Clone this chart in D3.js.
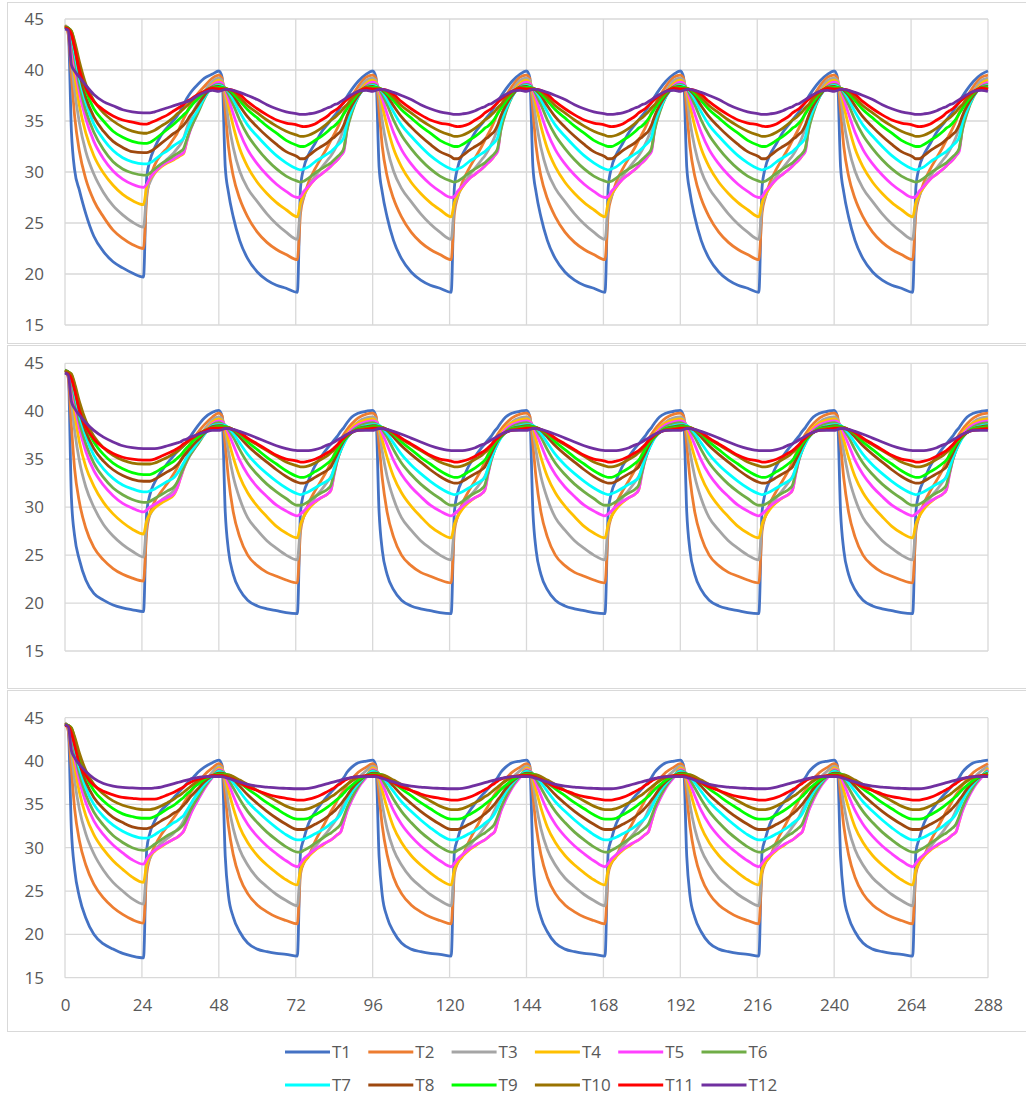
<!DOCTYPE html>
<html>
<head>
<meta charset="utf-8">
<script src="https://cdn.jsdelivr.net/npm/d3@7"></script>
<style>
  body { margin: 0; background: #fff; }
  text { font-family: "Open Sans", sans-serif; fill: #595959; }
</style>
</head>
<body>
<div id="chart"></div>
<script>
// hours inside one 48 h cycle where values were read
var cycleHours = [0, 1, 2, 3, 4.5, 6.5, 9, 12, 15, 18, 21, 24.5,
  25.5, 26.5, 28, 30, 32, 34, 35, 36, 37, 38, 39, 40, 41.5, 43.5, 46];

var seriesNames = ["T1", "T2", "T3", "T4", "T5", "T6", "T7", "T8", "T9", "T10", "T11", "T12"];
var xTicks = [0, 24, 48, 72, 96, 120, 144, 168, 192, 216, 240, 264, 288];
var yTicks = [15, 20, 25, 30, 35, 40, 45];

// panel 1 : first cycle (0-48 h)
var p1First = [
  [44.2, 43.8, 34.0, 30.2, 28.2, 25.9, 23.7, 22.2, 21.2, 20.6, 20.1, 19.7, 29.5, 31.1, 32.4, 33.6, 34.4, 35.1, 35.5, 36.0, 36.6, 37.2, 37.7, 38.1, 38.6, 39.2, 39.6],
  [44.4, 43.5, 39.5, 35.5, 32.0, 29.3, 27.2, 25.6, 24.3, 23.5, 22.9, 22.5, 27.5, 29.3, 30.7, 31.7, 32.4, 33.3, 33.8, 34.5, 35.2, 35.8, 36.5, 37.0, 37.7, 38.4, 39.2],
  [44.3, 43.8, 41.0, 38.0, 34.8, 32.0, 29.8, 28.0, 26.7, 25.8, 25.1, 24.6, 28.0, 29.0, 29.9, 30.7, 31.3, 31.9, 32.3, 32.7, 33.3, 34.3, 35.2, 35.9, 36.8, 37.9, 38.9],
  [44.3, 44.0, 42.0, 39.5, 36.5, 33.8, 31.6, 29.9, 28.7, 27.8, 27.2, 26.8, 28.6, 29.3, 29.9, 30.5, 30.9, 31.2, 31.4, 31.6, 31.8, 33.0, 34.1, 34.9, 36.0, 37.5, 38.6],
  [44.3, 44.1, 42.8, 40.5, 37.8, 35.2, 33.0, 31.3, 30.1, 29.3, 28.8, 28.5, 28.8, 29.4, 30.0, 30.6, 31.0, 31.3, 31.5, 31.7, 31.9, 33.0, 34.0, 34.8, 35.9, 37.4, 38.5],
  [44.3, 44.1, 43.2, 41.2, 38.5, 36.0, 33.9, 32.2, 31.0, 30.3, 29.9, 29.7, 29.7, 29.9, 30.3, 30.8, 31.2, 31.6, 31.8, 32.0, 32.3, 33.2, 34.1, 34.8, 35.8, 37.2, 38.4],
  [44.2, 44.1, 43.4, 41.7, 39.2, 36.8, 34.7, 33.2, 32.1, 31.4, 31.0, 30.8, 30.8, 30.9, 31.2, 31.7, 32.1, 32.6, 32.8, 33.0, 33.3, 34.0, 34.7, 35.3, 36.1, 37.3, 38.3],
  [44.2, 44.1, 43.6, 42.2, 39.7, 37.3, 35.4, 34.0, 33.0, 32.4, 32.0, 31.9, 31.9, 32.0, 32.3, 32.8, 33.3, 33.8, 34.0, 34.3, 34.6, 35.0, 35.5, 35.9, 36.6, 37.5, 38.3],
  [44.2, 44.1, 43.8, 42.6, 40.3, 38.0, 36.2, 35.0, 34.0, 33.4, 33.0, 32.8, 32.8, 32.9, 33.2, 33.7, 34.2, 34.7, 35.0, 35.3, 35.6, 35.9, 36.3, 36.7, 37.2, 37.8, 38.3],
  [44.2, 44.1, 43.8, 42.8, 40.8, 38.6, 37.0, 35.8, 35.0, 34.4, 34.0, 33.8, 33.8, 33.9, 34.1, 34.5, 34.9, 35.4, 35.7, 35.9, 36.2, 36.5, 36.8, 37.1, 37.5, 37.9, 38.3],
  [44.1, 44.0, 43.5, 42.2, 40.0, 38.2, 36.9, 36.1, 35.5, 35.1, 34.9, 34.7, 34.7, 34.8, 35.0, 35.3, 35.6, 36.0, 36.2, 36.4, 36.6, 36.9, 37.1, 37.3, 37.6, 37.9, 38.2],
  [44.0, 43.9, 40.5, 39.9, 39.3, 38.5, 37.6, 36.9, 36.5, 36.1, 35.9, 35.8, 35.8, 35.8, 35.9, 36.1, 36.3, 36.5, 36.6, 36.7, 36.8, 36.9, 37.0, 37.2, 37.5, 37.8, 38.0]
];

// panel 1 : repeating cycle (48-288 h)
var p1Cycle = [
  [39.9, 39.3, 30.5, 28.0, 25.6, 23.3, 21.5, 20.2, 19.4, 18.9, 18.6, 18.2, 28.5, 30.4, 31.7, 32.8, 33.9, 34.7, 35.1, 35.5, 35.9, 36.4, 36.9, 37.4, 38.1, 38.9, 39.6],
  [39.5, 39.2, 36.0, 32.5, 29.6, 27.4, 25.6, 24.1, 23.1, 22.4, 21.9, 21.4, 26.0, 27.5, 29.0, 30.3, 31.4, 32.5, 33.1, 33.7, 34.3, 35.0, 35.8, 36.5, 37.4, 38.4, 39.3],
  [39.2, 39.0, 37.5, 35.0, 32.4, 30.1, 28.4, 27.1, 25.9, 24.9, 24.1, 23.4, 26.6, 27.6, 28.6, 29.6, 30.4, 31.2, 31.6, 32.1, 32.7, 33.4, 34.3, 35.3, 36.6, 37.9, 39.0],
  [39.0, 38.8, 37.9, 36.5, 34.5, 32.3, 30.5, 29.0, 27.9, 27.0, 26.3, 25.6, 27.0, 27.8, 28.5, 29.3, 29.8, 30.3, 30.6, 30.9, 31.2, 31.6, 32.2, 34.3, 36.0, 37.6, 38.7],
  [38.8, 38.7, 38.1, 37.2, 35.7, 33.9, 32.2, 30.8, 29.7, 28.8, 28.1, 27.5, 27.6, 28.1, 28.6, 29.3, 29.8, 30.3, 30.6, 30.9, 31.2, 31.6, 32.0, 34.2, 35.9, 37.5, 38.5],
  [38.6, 38.5, 38.2, 37.6, 36.6, 35.1, 33.6, 32.3, 31.2, 30.3, 29.6, 29.1, 29.0, 29.1, 29.4, 29.9, 30.3, 30.7, 30.9, 31.2, 31.5, 31.8, 32.3, 34.1, 35.8, 37.4, 38.4],
  [38.5, 38.4, 38.2, 37.9, 37.1, 35.9, 34.6, 33.5, 32.5, 31.6, 30.9, 30.3, 30.2, 30.3, 30.5, 31.0, 31.4, 31.8, 32.0, 32.3, 32.6, 32.9, 33.4, 34.8, 36.1, 37.4, 38.3],
  [38.4, 38.3, 38.2, 38.0, 37.5, 36.5, 35.4, 34.4, 33.5, 32.7, 32.0, 31.5, 31.3, 31.3, 31.6, 32.1, 32.5, 32.9, 33.2, 33.4, 33.7, 34.0, 34.6, 35.5, 36.5, 37.5, 38.3],
  [38.3, 38.3, 38.2, 38.1, 37.7, 37.0, 36.1, 35.3, 34.5, 33.8, 33.1, 32.6, 32.5, 32.5, 32.7, 33.1, 33.5, 34.0, 34.3, 34.5, 34.8, 35.2, 35.7, 36.2, 36.9, 37.7, 38.3],
  [38.2, 38.2, 38.2, 38.1, 37.9, 37.3, 36.5, 35.8, 35.1, 34.5, 34.0, 33.6, 33.5, 33.5, 33.6, 33.9, 34.3, 34.8, 35.1, 35.3, 35.6, 35.9, 36.3, 36.6, 37.2, 37.8, 38.3],
  [38.1, 38.1, 38.1, 38.1, 38.0, 37.6, 36.9, 36.2, 35.6, 35.1, 34.8, 34.6, 34.5, 34.45, 34.5, 34.7, 35.1, 35.5, 35.8, 36.0, 36.2, 36.5, 36.8, 37.1, 37.5, 37.9, 38.2],
  [37.9, 38.0, 38.1, 38.1, 38.0, 37.8, 37.5, 37.1, 36.6, 36.2, 35.9, 35.7, 35.65, 35.65, 35.7, 35.8, 36.0, 36.3, 36.4, 36.6, 36.7, 36.9, 37.1, 37.3, 37.6, 37.9, 38.0]
];

// panel 2
var p2First = [
  [44.0, 43.8, 31.0, 27.0, 24.5, 22.4, 21.0, 20.3, 19.8, 19.5, 19.3, 19.1, 29.5, 31.3, 32.6, 33.7, 34.6, 35.4, 35.8, 36.1, 36.4, 36.8, 37.3, 37.8, 38.5, 39.3, 39.9],
  [44.3, 43.5, 38.5, 34.0, 30.5, 27.8, 25.8, 24.5, 23.6, 23.0, 22.6, 22.3, 27.5, 29.3, 30.6, 31.6, 32.5, 33.5, 34.1, 34.8, 35.4, 36.0, 36.6, 37.1, 37.8, 38.6, 39.4],
  [44.3, 43.8, 41.0, 38.0, 34.8, 32.1, 30.0, 28.2, 27.0, 26.1, 25.4, 24.8, 28.3, 29.2, 30.0, 30.7, 31.2, 31.8, 32.5, 33.4, 34.3, 35.1, 35.8, 36.3, 37.1, 38.1, 39.1],
  [44.3, 44.0, 42.3, 39.8, 36.8, 34.2, 32.2, 30.5, 29.3, 28.4, 27.7, 27.2, 28.6, 29.3, 29.9, 30.4, 30.8, 31.3, 32.0, 33.0, 34.0, 34.8, 35.5, 36.0, 36.8, 37.8, 38.9],
  [44.3, 44.1, 43.0, 40.8, 38.2, 35.8, 33.8, 32.3, 31.2, 30.4, 29.9, 29.5, 29.7, 30.0, 30.3, 30.7, 31.0, 31.4, 32.0, 33.0, 34.0, 34.8, 35.4, 35.9, 36.7, 37.7, 38.7],
  [44.3, 44.1, 43.3, 41.4, 38.9, 36.6, 34.6, 33.1, 32.0, 31.3, 30.8, 30.5, 30.5, 30.6, 30.9, 31.3, 31.7, 32.1, 32.6, 33.3, 34.1, 34.8, 35.4, 35.9, 36.6, 37.6, 38.6],
  [44.2, 44.1, 43.5, 41.9, 39.6, 37.4, 35.4, 34.0, 33.0, 32.3, 31.9, 31.6, 31.6, 31.7, 31.9, 32.3, 32.7, 33.1, 33.5, 34.0, 34.6, 35.2, 35.7, 36.1, 36.8, 37.6, 38.5],
  [44.2, 44.1, 43.7, 42.4, 40.1, 37.9, 36.1, 34.8, 33.9, 33.3, 32.9, 32.7, 32.7, 32.7, 32.9, 33.3, 33.7, 34.1, 34.4, 34.8, 35.3, 35.7, 36.1, 36.5, 37.0, 37.7, 38.4],
  [44.2, 44.1, 43.8, 42.7, 40.6, 38.5, 36.8, 35.5, 34.6, 34.0, 33.6, 33.4, 33.4, 33.4, 33.6, 34.0, 34.4, 34.8, 35.1, 35.4, 35.8, 36.2, 36.5, 36.9, 37.3, 37.8, 38.3],
  [44.2, 44.1, 43.9, 42.9, 41.0, 39.0, 37.4, 36.2, 35.4, 34.9, 34.6, 34.5, 34.5, 34.5, 34.6, 34.9, 35.2, 35.6, 35.8, 36.1, 36.4, 36.7, 37.0, 37.2, 37.6, 38.0, 38.3],
  [44.0, 43.9, 43.4, 42.2, 40.1, 38.4, 37.1, 36.2, 35.6, 35.2, 35.0, 34.9, 34.9, 34.9, 35.0, 35.3, 35.6, 35.9, 36.1, 36.3, 36.6, 36.8, 37.1, 37.3, 37.6, 37.9, 38.2],
  [44.0, 43.8, 41.0, 40.3, 39.6, 38.8, 38.0, 37.3, 36.8, 36.4, 36.2, 36.1, 36.1, 36.1, 36.1, 36.2, 36.4, 36.6, 36.7, 36.8, 37.0, 37.1, 37.3, 37.4, 37.6, 37.8, 38.0]
];

var p2Cycle = [
  [40.1, 39.5, 29.5, 25.5, 23.0, 21.4, 20.3, 19.7, 19.4, 19.2, 19.0, 18.9, 29.5, 31.5, 32.8, 34.3, 35.3, 36.2, 36.6, 37.0, 37.4, 37.9, 38.3, 38.8, 39.4, 39.8, 40.0],
  [39.8, 39.5, 36.5, 33.0, 29.5, 26.9, 25.0, 23.9, 23.2, 22.8, 22.4, 22.1, 27.5, 29.0, 30.4, 31.7, 32.8, 34.0, 34.7, 35.5, 36.3, 37.0, 37.6, 38.1, 38.7, 39.3, 39.7],
  [39.4, 39.2, 38.0, 35.8, 33.2, 30.9, 28.9, 27.6, 26.5, 25.7, 25.0, 24.5, 28.0, 29.0, 30.0, 31.0, 31.8, 32.7, 33.2, 34.0, 35.0, 35.9, 36.7, 37.4, 38.2, 38.9, 39.3],
  [39.2, 39.0, 38.3, 37.0, 35.2, 33.2, 31.5, 30.1, 29.0, 28.0, 27.3, 26.8, 28.2, 29.0, 29.8, 30.5, 31.0, 31.4, 31.8, 33.6, 35.1, 36.2, 37.1, 37.7, 38.3, 38.8, 39.1],
  [39.0, 38.9, 38.5, 37.7, 36.5, 34.9, 33.4, 32.1, 31.1, 30.2, 29.6, 29.1, 29.3, 29.6, 30.1, 30.6, 31.0, 31.4, 31.8, 33.4, 34.9, 36.0, 36.9, 37.5, 38.1, 38.6, 38.9],
  [38.8, 38.7, 38.5, 38.1, 37.3, 36.0, 34.6, 33.4, 32.4, 31.6, 30.9, 30.2, 30.2, 30.3, 30.6, 31.1, 31.5, 31.9, 32.3, 33.6, 34.9, 35.9, 36.7, 37.3, 37.9, 38.4, 38.7],
  [38.6, 38.6, 38.5, 38.3, 37.7, 36.7, 35.5, 34.4, 33.5, 32.7, 32.0, 31.4, 31.3, 31.4, 31.6, 32.0, 32.4, 32.8, 33.1, 34.1, 35.1, 35.9, 36.6, 37.2, 37.8, 38.2, 38.5],
  [38.5, 38.5, 38.4, 38.3, 38.0, 37.3, 36.4, 35.5, 34.7, 33.9, 33.2, 32.6, 32.5, 32.5, 32.7, 33.1, 33.5, 33.9, 34.2, 34.9, 35.6, 36.3, 36.9, 37.3, 37.8, 38.2, 38.4],
  [38.4, 38.4, 38.4, 38.3, 38.1, 37.6, 36.8, 36.0, 35.2, 34.5, 33.8, 33.2, 33.1, 33.1, 33.3, 33.7, 34.1, 34.6, 34.9, 35.4, 36.0, 36.6, 37.0, 37.4, 37.8, 38.2, 38.3],
  [38.3, 38.3, 38.3, 38.3, 38.1, 37.7, 37.1, 36.5, 35.9, 35.3, 34.7, 34.3, 34.2, 34.2, 34.3, 34.6, 35.0, 35.4, 35.7, 36.0, 36.4, 36.8, 37.2, 37.5, 37.8, 38.1, 38.2],
  [38.2, 38.2, 38.2, 38.2, 38.1, 37.8, 37.2, 36.6, 36.0, 35.4, 35.0, 34.8, 34.7, 34.7, 34.8, 35.0, 35.3, 35.7, 35.9, 36.2, 36.5, 36.9, 37.2, 37.5, 37.8, 38.0, 38.1],
  [38.0, 38.1, 38.2, 38.2, 38.1, 37.9, 37.6, 37.2, 36.8, 36.4, 36.1, 35.9, 35.9, 35.9, 35.9, 36.0, 36.2, 36.5, 36.6, 36.8, 37.0, 37.2, 37.4, 37.6, 37.8, 38.0, 38.0]
];

// panel 3
var p3First = [
  [44.3, 43.8, 32.0, 27.5, 24.3, 21.9, 20.0, 18.9, 18.3, 17.8, 17.5, 17.3, 29.8, 31.7, 33.1, 34.3, 35.0, 35.8, 36.2, 36.6, 37.0, 37.4, 37.8, 38.1, 38.7, 39.3, 39.8],
  [44.4, 43.5, 39.0, 34.5, 30.8, 28.0, 25.8, 24.2, 23.1, 22.3, 21.7, 21.3, 27.0, 28.8, 30.2, 31.5, 32.5, 33.5, 34.0, 34.5, 35.1, 35.7, 36.3, 36.8, 37.5, 38.4, 39.2],
  [44.4, 43.8, 41.0, 37.8, 34.4, 31.6, 29.3, 27.4, 26.0, 25.0, 24.1, 23.5, 27.8, 28.8, 29.7, 30.5, 31.1, 31.7, 32.1, 32.5, 33.1, 33.9, 34.8, 35.5, 36.4, 37.5, 38.7],
  [44.3, 44.0, 42.0, 39.4, 36.4, 33.7, 31.5, 29.8, 28.5, 27.5, 26.6, 26.0, 28.2, 29.0, 29.6, 30.1, 30.6, 31.0, 31.2, 31.5, 31.9, 32.8, 33.8, 34.6, 35.6, 36.9, 38.2],
  [44.3, 44.1, 42.8, 40.4, 37.7, 35.2, 33.1, 31.5, 30.3, 29.4, 28.6, 28.1, 28.7, 29.2, 29.7, 30.2, 30.6, 31.0, 31.2, 31.5, 31.9, 32.8, 33.7, 34.5, 35.5, 36.8, 38.1],
  [44.3, 44.1, 43.2, 41.1, 38.5, 36.1, 34.1, 32.6, 31.4, 30.6, 30.0, 29.7, 29.8, 30.0, 30.4, 30.9, 31.4, 31.8, 32.0, 32.3, 32.7, 33.4, 34.2, 34.9, 35.8, 37.0, 38.2],
  [44.2, 44.1, 43.4, 41.6, 39.2, 36.9, 35.0, 33.6, 32.6, 31.9, 31.4, 31.1, 31.1, 31.2, 31.5, 32.0, 32.4, 32.9, 33.1, 33.4, 33.7, 34.3, 34.9, 35.5, 36.3, 37.3, 38.2],
  [44.2, 44.1, 43.6, 42.1, 39.8, 37.6, 35.8, 34.5, 33.5, 32.9, 32.4, 32.2, 32.2, 32.3, 32.6, 33.1, 33.5, 34.0, 34.2, 34.5, 34.9, 35.3, 35.8, 36.2, 36.8, 37.6, 38.3],
  [44.2, 44.1, 43.8, 42.6, 40.4, 38.3, 36.6, 35.4, 34.5, 33.9, 33.6, 33.4, 33.4, 33.4, 33.6, 34.0, 34.5, 34.9, 35.2, 35.5, 35.8, 36.2, 36.5, 36.9, 37.3, 37.9, 38.3],
  [44.2, 44.1, 43.8, 42.8, 40.9, 38.9, 37.3, 36.2, 35.4, 34.9, 34.6, 34.4, 34.4, 34.4, 34.5, 34.8, 35.2, 35.6, 35.9, 36.1, 36.4, 36.7, 37.0, 37.3, 37.7, 38.1, 38.3],
  [44.1, 44.0, 43.2, 41.8, 39.7, 38.3, 37.2, 36.5, 36.1, 35.8, 35.7, 35.6, 35.6, 35.6, 35.6, 35.8, 36.1, 36.4, 36.6, 36.8, 37.0, 37.3, 37.5, 37.7, 37.9, 38.1, 38.3],
  [44.2, 44.0, 41.2, 40.4, 39.6, 38.8, 38.0, 37.4, 37.1, 36.95, 36.9, 36.85, 36.85, 36.85, 36.9, 37.0, 37.2, 37.4, 37.5, 37.6, 37.7, 37.8, 37.9, 38.0, 38.1, 38.2, 38.2]
];

var p3Cycle = [
  [40.1, 39.5, 29.0, 24.5, 22.0, 20.3, 19.0, 18.3, 18.0, 17.8, 17.7, 17.5, 29.5, 31.0, 32.8, 34.1, 35.1, 36.0, 36.4, 36.8, 37.2, 37.6, 38.1, 38.7, 39.3, 39.8, 40.0],
  [39.7, 39.4, 36.0, 32.5, 29.2, 26.6, 24.7, 23.4, 22.6, 22.0, 21.6, 21.2, 27.0, 28.2, 29.0, 30.7, 32.1, 33.5, 34.2, 34.8, 35.5, 36.1, 36.6, 37.2, 37.9, 38.7, 39.3],
  [39.4, 39.2, 37.5, 35.0, 32.2, 29.8, 28.0, 26.5, 25.5, 24.6, 23.9, 23.3, 27.4, 28.3, 29.1, 30.1, 31.0, 31.9, 32.4, 32.9, 33.5, 34.3, 35.1, 35.9, 36.9, 38.0, 38.9],
  [39.2, 39.0, 38.0, 36.6, 34.6, 32.4, 30.6, 29.1, 28.0, 27.1, 26.3, 25.7, 27.5, 28.3, 29.0, 29.7, 30.2, 30.7, 30.9, 31.2, 31.5, 31.8, 33.0, 34.3, 35.6, 37.0, 38.2],
  [39.0, 38.9, 38.3, 37.4, 36.0, 34.3, 32.7, 31.3, 30.2, 29.3, 28.5, 27.8, 28.2, 28.7, 29.2, 29.8, 30.3, 30.7, 30.9, 31.2, 31.5, 31.8, 33.0, 34.2, 35.5, 36.9, 38.1],
  [38.9, 38.8, 38.5, 37.9, 36.9, 35.6, 34.2, 32.9, 31.8, 30.9, 30.1, 29.5, 29.5, 29.7, 30.0, 30.5, 31.0, 31.5, 31.7, 32.0, 32.3, 32.7, 33.6, 34.6, 35.8, 37.1, 38.3],
  [38.8, 38.7, 38.5, 38.2, 37.5, 36.5, 35.3, 34.2, 33.2, 32.3, 31.5, 30.9, 30.9, 31.0, 31.2, 31.6, 32.0, 32.5, 32.8, 33.1, 33.4, 33.9, 34.6, 35.4, 36.4, 37.4, 38.3],
  [38.6, 38.6, 38.5, 38.3, 37.9, 37.1, 36.1, 35.1, 34.2, 33.4, 32.7, 32.1, 32.1, 32.1, 32.3, 32.7, 33.1, 33.6, 33.9, 34.2, 34.6, 35.0, 35.5, 36.0, 36.8, 37.6, 38.3],
  [38.5, 38.5, 38.5, 38.4, 38.1, 37.5, 36.8, 36.0, 35.2, 34.5, 33.8, 33.3, 33.3, 33.3, 33.4, 33.8, 34.2, 34.7, 35.0, 35.3, 35.6, 35.9, 36.3, 36.7, 37.2, 37.8, 38.3],
  [38.4, 38.4, 38.4, 38.4, 38.2, 37.8, 37.3, 36.6, 36.0, 35.4, 34.8, 34.4, 34.4, 34.4, 34.5, 34.8, 35.2, 35.6, 35.9, 36.1, 36.4, 36.7, 37.0, 37.3, 37.7, 38.1, 38.3],
  [38.3, 38.3, 38.2, 38.1, 37.9, 37.5, 37.0, 36.6, 36.2, 35.9, 35.7, 35.5, 35.5, 35.5, 35.6, 35.8, 36.1, 36.5, 36.7, 36.9, 37.2, 37.4, 37.7, 37.9, 38.1, 38.2, 38.3],
  [38.2, 38.2, 38.1, 38.0, 37.8, 37.6, 37.3, 37.1, 37.0, 36.9, 36.85, 36.8, 36.8, 36.8, 36.85, 37.0, 37.2, 37.4, 37.5, 37.6, 37.7, 37.8, 37.9, 38.0, 38.1, 38.2, 38.2]
];

var colors = ["#4472c4", "#ed7d31", "#a5a5a5", "#ffc000", "#ff40ff", "#70ad47",
  "#00ffff", "#9e480e", "#00ff00", "#997300", "#ff0000", "#7030a0"];

var svgWidth = 1026;
var svgHeight = 1103;
var plotLeft = 65;
var plotRight = 988;

var svg = d3.select("#chart")
  .append("svg")
  .attr("width", svgWidth)
  .attr("height", svgHeight);

var panels = [
  {first: p1First, cycle: p1Cycle, boxTop: 2, boxBottom: 343, top: 19, bottom: 325, xLabels: false},
  {first: p2First, cycle: p2Cycle, boxTop: 345, boxBottom: 688, top: 363.3, bottom: 651, xLabels: false},
  {first: p3First, cycle: p3Cycle, boxTop: 690, boxBottom: 1031, top: 717.7, bottom: 977.7, xLabels: true}
];

var xScale = d3.scaleLinear().domain([0, 288]).range([plotLeft, plotRight]);

// first cycle is read separately, then the measured cycle repeats every 48 h
function buildSeries(first, cycle) {
  var pts = [];
  cycleHours.forEach(function(h, i) { pts.push([h, first[i]]); });
  for (var c = 1; c < 6; c++) {
    cycleHours.forEach(function(h, i) { pts.push([48 * c + h, cycle[i]]); });
  }
  pts.push([288, cycle[0]]);
  return pts;
}

panels.forEach(function(p) {
  // chart area border
  svg.append("rect")
    .attr("x", 7.5)
    .attr("y", p.boxTop + 0.5)
    .attr("width", 1030)
    .attr("height", p.boxBottom - p.boxTop)
    .attr("fill", "none")
    .attr("stroke", "#d9d9d9")
    .attr("stroke-width", 1);

  var yScale = d3.scaleLinear().domain([15, 45]).range([p.bottom, p.top]);
  var g = svg.append("g");

  // gridlines
  g.selectAll(".hgrid")
    .data(yTicks)
    .enter()
    .append("line")
    .attr("x1", plotLeft)
    .attr("x2", plotRight)
    .attr("y1", d => yScale(d))
    .attr("y2", d => yScale(d))
    .attr("stroke", "#d9d9d9")
    .attr("stroke-width", 1.3);

  g.selectAll(".vgrid")
    .data(xTicks)
    .enter()
    .append("line")
    .attr("x1", d => xScale(d))
    .attr("x2", d => xScale(d))
    .attr("y1", p.top)
    .attr("y2", p.bottom)
    .attr("stroke", "#d9d9d9")
    .attr("stroke-width", 1.3);

  // y axis labels
  var leftAxis = d3.axisLeft(yScale).tickValues(yTicks).tickSize(0).tickPadding(21);
  var yAxis = g.append("g")
    .attr("transform", `translate(${plotLeft}, 0)`)
    .call(leftAxis);
  yAxis.select(".domain").remove();
  yAxis.selectAll("text")
    .attr("font-family", "Open Sans, sans-serif")
    .attr("font-size", 17)
    .attr("fill", "#595959");

  if (p.xLabels) {
    var bottomAxis = d3.axisBottom(xScale).tickValues(xTicks).tickSize(0).tickPadding(21);
    var xAxis = g.append("g")
      .attr("transform", `translate(0, ${p.bottom})`)
      .call(bottomAxis);
    xAxis.select(".domain").remove();
    xAxis.selectAll("text")
      .attr("font-family", "Open Sans, sans-serif")
      .attr("font-size", 17)
      .attr("fill", "#595959");
  }

  var line = d3.line()
    .x(d => xScale(d[0]))
    .y(d => yScale(d[1]))
    .curve(d3.curveMonotoneX);

  seriesNames.forEach(function(name, i) {
    g.append("path")
      .datum(buildSeries(p.first[i], p.cycle[i]))
      .attr("fill", "none")
      .attr("stroke", colors[i])
      .attr("stroke-width", 2.8)
      .attr("stroke-linejoin", "round")
      .attr("d", line);
  });
});

// legend
var legend = svg.append("g");
seriesNames.forEach(function(name, i) {
  var col = i % 6;
  var row = Math.floor(i / 6);
  var lx = 285 + col * 83.3;
  var ly = row === 0 ? 1052 : 1085;
  legend.append("line")
    .attr("x1", lx)
    .attr("x2", lx + 45)
    .attr("y1", ly)
    .attr("y2", ly)
    .attr("stroke", colors[i])
    .attr("stroke-width", 2.8);
  legend.append("text")
    .attr("x", lx + 47)
    .attr("y", ly)
    .attr("dy", "0.35em")
    .attr("font-size", 17)
    .text(name);
});
</script>
</body>
</html>
